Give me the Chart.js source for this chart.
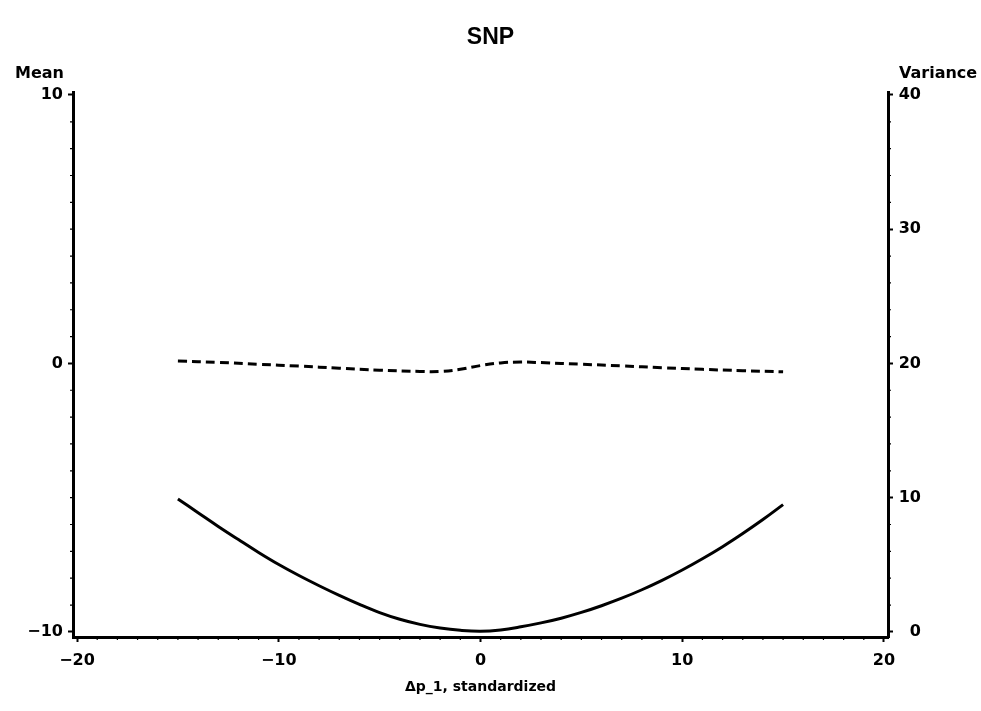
<!DOCTYPE html>
<html>
<head>
<meta charset="utf-8">
<script src="https://cdn.jsdelivr.net/npm/chart.js@4.4.1/dist/chart.umd.min.js"></script>
<style>
  html, body { margin: 0; padding: 0; background: #fff; }
  #wrap { width: 981px; height: 711px; position: relative; }
</style>
</head>
<body>
<div id="wrap"><canvas id="c" width="981" height="711"></canvas></div>
<script>
// ---- data ----
const varX = [-15,-14,-13,-12,-11,-10,-9,-8,-7,-6,-5,-4,-3,-2,-1,0,1,2,3,4,5,6,7,8,9,10,11,12,13,14,15];
const varY = [9.9,8.88,7.86,6.88,5.92,5.02,4.2,3.44,2.72,2.05,1.44,0.94,0.56,0.29,0.12,0.05,0.15,0.38,0.67,1.02,1.45,1.95,2.51,3.14,3.84,4.61,5.45,6.35,7.33,8.37,9.48];
const meanX = [-15,-13,-11,-9,-7,-5,-3,-2,-1,0,1,2,3,5,7,9,11,13,15];
const meanY = [0.09,0.04,-0.03,-0.1,-0.18,-0.25,-0.3,-0.3,-0.22,-0.08,0.02,0.05,0.03,-0.03,-0.09,-0.16,-0.22,-0.27,-0.31];
const xTicks = [-20,-10,0,10,20];
const meanTicks = [-10,0,10];
const varTicks = [0,10,20,30,40];
const chartTitle = 'SNP';
const meanLabel = 'Mean';
const varLabel = 'Variance';
const xLabel = 'Δp_1, standardized';

const FONT = "'DejaVu Sans', 'Liberation Sans', Arial, sans-serif";
const TITLE_FONT = "'Liberation Sans', Arial, Helvetica, sans-serif";
const fmt = v => (v < 0 ? '\u2212' + Math.abs(v) : String(v));

const extras = {
  id: 'extras',
  afterDraw(chart) {
    const ctx = chart.ctx;
    const sx = chart.scales.x, sm = chart.scales.yMean, sv = chart.scales.yVar;
    ctx.save();
    ctx.strokeStyle = '#000';
    ctx.lineWidth = 1.2;
    ctx.beginPath();
    for (let v = -20; v <= 20; v++) {
      if (v % 10 === 0) continue;
      const px = sx.getPixelForValue(v);
      ctx.moveTo(px, sx.top); ctx.lineTo(px, sx.top + 3);
    }
    for (let v = -10; v <= 10; v++) {
      if (v % 10 === 0) continue;
      const py = sm.getPixelForValue(v);
      ctx.moveTo(sm.right, py); ctx.lineTo(sm.right - 3, py);
    }
    for (let v = 0; v <= 40; v += 2) {
      if (v % 10 === 0) continue;
      const py = sv.getPixelForValue(v);
      ctx.moveTo(sv.left, py); ctx.lineTo(sv.left + 3, py);
    }
    ctx.stroke();
    ctx.fillStyle = '#000';
    // chart title, centred on the canvas
    ctx.font = 'bold 23px ' + TITLE_FONT;
    ctx.textAlign = 'center';
    ctx.textBaseline = 'alphabetic';
    ctx.fillText(chartTitle, chart.width / 2, 44);
    // axis header labels
    ctx.font = 'bold 16px ' + FONT;
    ctx.textAlign = 'right';
    ctx.fillText(meanLabel, sm.right - 9, 78);
    ctx.textAlign = 'left';
    ctx.fillText(varLabel, sv.left + 11, 78);
    ctx.restore();
  }
};

new Chart(document.getElementById('c'), {
  type: 'line',
  data: {
    datasets: [
      {
        label: meanLabel,
        data: meanX.map((x, i) => ({ x, y: meanY[i] })),
        yAxisID: 'yMean',
        borderColor: '#000',
        borderWidth: 3,
        borderDash: [9, 5],
        pointRadius: 0,
        tension: 0.4,
        fill: false
      },
      {
        label: varLabel,
        data: varX.map((x, i) => ({ x, y: varY[i] })),
        yAxisID: 'yVar',
        borderColor: '#000',
        borderWidth: 3,
        pointRadius: 0,
        tension: 0.4,
        fill: false
      }
    ]
  },
  options: {
    responsive: false,
    animation: false,
    layout: { padding: { left: 0, right: 60, top: 92, bottom: 0 } },
    plugins: {
      legend: { display: false },
      tooltip: { enabled: false },
      title: { display: false }
    },
    scales: {
      x: {
        type: 'linear',
        position: 'bottom',
        min: -20.2,
        max: 20.2,
        border: { display: true, color: '#000', width: 3 },
        grid: { drawOnChartArea: false, drawTicks: true, tickLength: 5, tickWidth: 2, tickColor: '#000' },
        ticks: { color: '#000', font: { family: FONT, size: 16, weight: 'bold' }, padding: 9, callback: v => fmt(v) },
        title: { display: true, text: xLabel, color: '#000', font: { family: FONT, size: 14, weight: 'bold' }, padding: { top: 10, bottom: 15 } },
        afterBuildTicks: s => { s.ticks = xTicks.map(v => ({ value: v })); },
        afterFit: s => { s.height = 74; }
      },
      yMean: {
        type: 'linear',
        position: 'left',
        min: -10.19,
        max: 10.11,
        border: { display: true, color: '#000', width: 3 },
        grid: { drawOnChartArea: false, drawTicks: true, tickLength: 5, tickWidth: 2, tickColor: '#000' },
        ticks: { color: '#000', font: { family: FONT, size: 16, weight: 'bold' }, padding: 5, callback: v => fmt(v) },
        afterBuildTicks: s => { s.ticks = meanTicks.map(v => ({ value: v })); },
        afterFit: s => { s.width = 73; }
      },
      yVar: {
        type: 'linear',
        position: 'right',
        min: -0.38,
        max: 40.22,
        border: { display: true, color: '#000', width: 3 },
        grid: { drawOnChartArea: false, drawTicks: true, tickLength: 5, tickWidth: 2, tickColor: '#000' },
        ticks: { color: '#000', font: { family: FONT, size: 16, weight: 'bold' }, padding: 5, crossAlign: 'far', callback: v => fmt(v) },
        afterBuildTicks: s => { s.ticks = varTicks.map(v => ({ value: v })); },
        afterFit: s => { s.width = 33; }
      }
    }
  },
  plugins: [extras]
});
</script>
</body>
</html>
